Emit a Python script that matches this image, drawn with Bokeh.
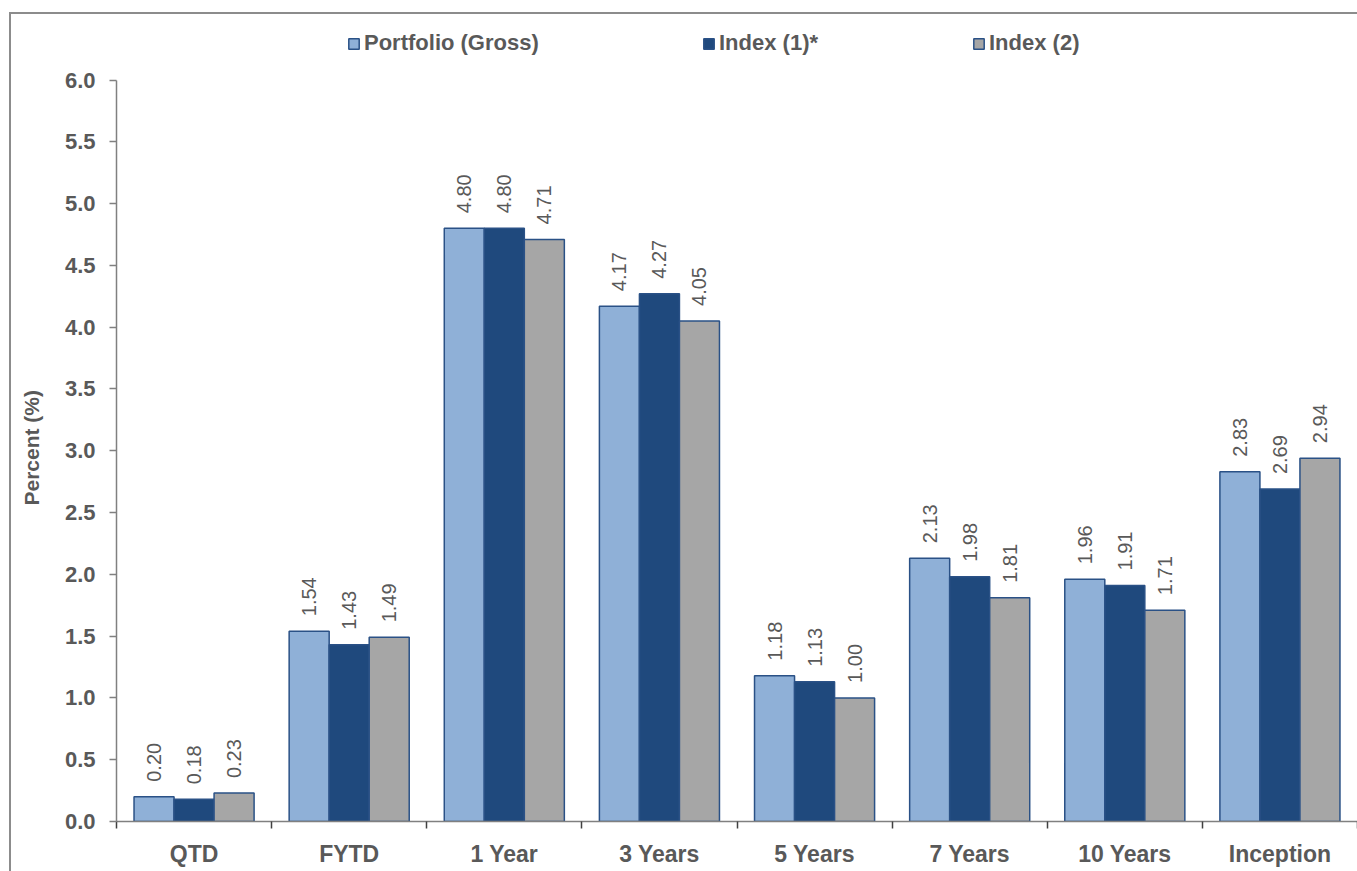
import numpy as np
from bokeh.plotting import figure
from bokeh.models import (ColumnDataSource, Range1d, LinearAxis, FixedTicker,
                          Legend, LegendItem, NumeralTickFormatter, Title)
from bokeh.embed import file_html
from bokeh.resources import INLINE
from bokeh.core.properties import value

categories = ["QTD", "FYTD", "1 Year", "3 Years", "5 Years", "7 Years", "10 Years", "Inception"]
series_names = ["Portfolio (Gross)", "Index (1)*", "Index (2)"]
portfolio = [0.20, 1.54, 4.80, 4.17, 1.18, 2.13, 1.96, 2.83]
index1 = [0.18, 1.43, 4.80, 4.27, 1.13, 1.98, 1.91, 2.69]
index2 = [0.23, 1.49, 4.71, 4.05, 1.00, 1.81, 1.71, 2.94]
y_ticks = [0.0, 0.5, 1.0, 1.5, 2.0, 2.5, 3.0, 3.5, 4.0, 4.5, 5.0, 5.5, 6.0]
y_max = 6.0
y_title = "Percent (%)"

colors = ["#8FB0D7", "#1F497D", "#A6A6A6"]
TEXT = "#595959"
FONT = "Liberation Sans"

# layout (pixels)
W, H = 1357, 871
frame_bottom = 821          # canvas y of value 0
axis_px = 741.5             # pixels from 0 to y_max
y_end = y_max * frame_bottom / axis_px   # frame reaches the canvas top

border_css = """
:host { position: relative; }
:host::after {
  content: ""; position: absolute; left: 9px; top: 12px; right: -5px; bottom: -5px;
  border-top: 2px solid #8C8C8C; border-left: 2px solid #8C8C8C;
  pointer-events: none;
}
"""

p = figure(width=W, height=H, output_backend="svg", toolbar_location=None,
           x_range=Range1d(0, len(categories)), y_range=Range1d(0, y_end),
           x_axis_type=None, y_axis_type=None,
           min_border_left=116, min_border_right=0, min_border_top=0,
           min_border_bottom=H - frame_bottom,
           stylesheets=[border_css])
p.outline_line_color = None
p.xgrid.visible = False
p.ygrid.visible = False
p.background_fill_color = "white"
p.border_fill_color = "white"

centers = np.arange(len(categories)) + 0.5
bw = 0.258
offsets = [-bw, 0.0, bw]
renderers = []
for vals, off, col in zip([portfolio, index1, index2], offsets, colors):
    src = ColumnDataSource(dict(x=centers + off, top=vals,
                                lab=["%.2f" % v for v in vals]))
    r = p.vbar(x="x", top="top", width=bw, bottom=0, source=src,
               fill_color=col, line_color="#2A5186", line_width=1.5)
    renderers.append(r)
    p.text(x="x", y="top", text="lab", source=src, angle=np.pi / 2,
           text_align="left", text_baseline="middle", y_offset=-15,
           text_font=value(FONT), text_font_size="20px", text_color=TEXT)

# y axis
yax = LinearAxis(ticker=FixedTicker(ticks=y_ticks, minor_ticks=[]),
                 formatter=NumeralTickFormatter(format="0.0"),
                 bounds=(0, y_max))
yax.major_label_text_font = FONT
yax.major_label_text_font_size = "22px"
yax.major_label_text_font_style = "bold"
yax.major_label_text_color = TEXT
yax.major_label_standoff = 14
yax.axis_line_color = "#808080"
yax.axis_line_width = 1.5
yax.major_tick_line_color = "#808080"
yax.major_tick_line_width = 1.5
yax.major_tick_out = 7
yax.major_tick_in = 0
yax.minor_tick_line_color = None
p.add_layout(yax, "left")

# y axis title, centred on the 0..6 span of the axis
ytitle = Title(text=y_title, align="left", vertical_align="top",
               offset=316, standoff=34,
               text_font=FONT, text_font_size="21px", text_font_style="bold",
               text_color=TEXT)
p.add_layout(ytitle, "left")

# x axis: labels at category centers, ticks at boundaries
xax = LinearAxis(ticker=FixedTicker(ticks=list(centers),
                                    minor_ticks=list(range(len(categories) + 1))))
xax.major_label_overrides = {float(c): cat for c, cat in zip(centers, categories)}
xax.major_label_text_font = FONT
xax.major_label_text_font_size = "23px"
xax.major_label_text_font_style = "bold"
xax.major_label_text_color = TEXT
xax.major_label_standoff = 12
xax.major_tick_line_color = None
xax.major_tick_out = 0
xax.major_tick_in = 0
xax.minor_tick_line_color = "#404040"
xax.minor_tick_line_width = 1.5
xax.minor_tick_out = 7
xax.minor_tick_in = 0
xax.axis_line_color = "#808080"
xax.axis_line_width = 1.5
p.add_layout(xax, "below")

# legends (three separate entries placed above the bars)
leg_x = [231, 586, 856]
for name, r, lx in zip(series_names, renderers, leg_x):
    leg = Legend(items=[LegendItem(label=name, renderers=[r])],
                 location=(lx, 765), orientation="horizontal",
                 padding=0, margin=0, spacing=0,
                 border_line_color=None, background_fill_alpha=0,
                 glyph_width=13, glyph_height=13, label_standoff=4,
                 label_height=24,
                 label_text_font=FONT, label_text_font_size="22px",
                 label_text_font_style="bold", label_text_color=TEXT)
    p.add_layout(leg, "center")

open("out.html", "w").write(file_html(p, INLINE))
